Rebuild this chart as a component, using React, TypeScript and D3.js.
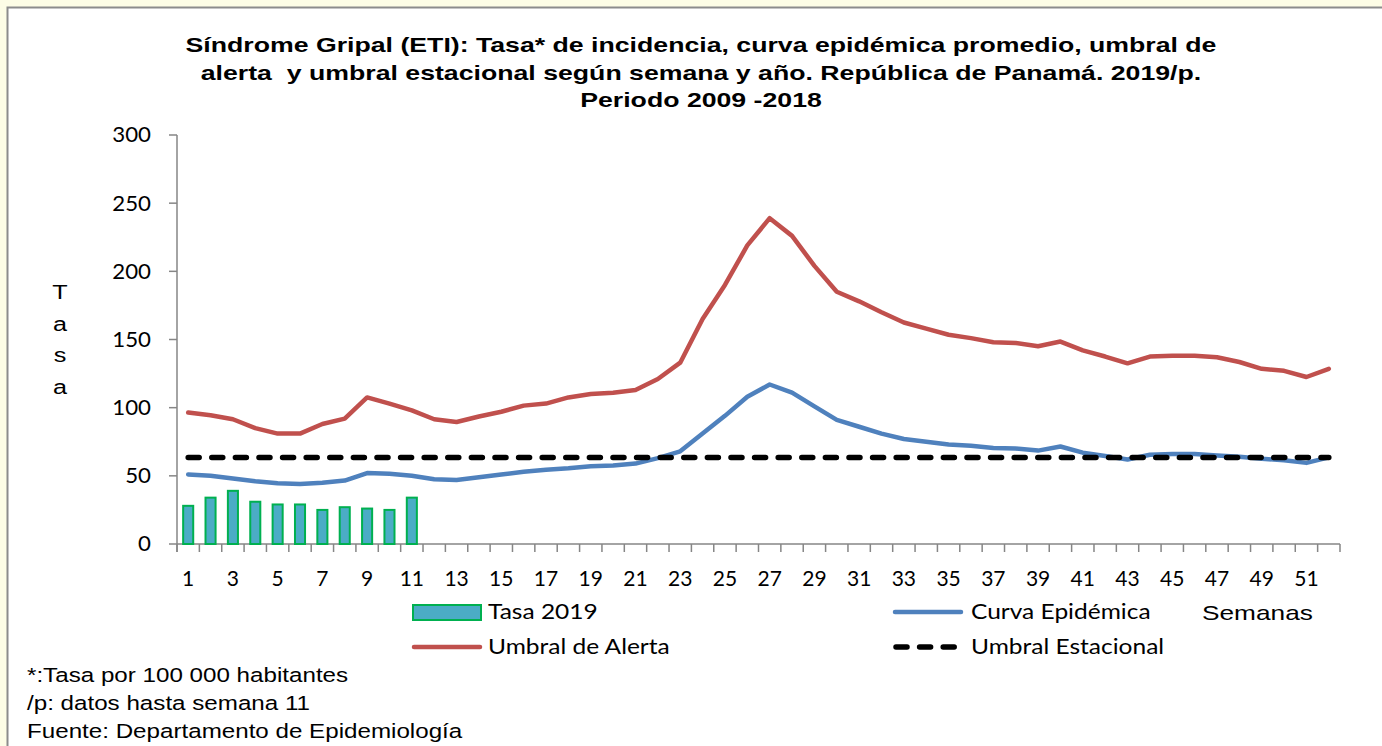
import * as d3 from 'd3'

const W = 1382,
      H = 746

const weeks = [1, 2, 3, 4, 5, 6, 7, 8, 9, 10, 11, 12, 13, 14, 15, 16, 17, 18, 19, 20, 21, 22, 23, 24, 25, 26,
  27, 28, 29, 30, 31, 32, 33, 34, 35, 36, 37, 38, 39, 40, 41, 42, 43, 44, 45, 46, 47, 48, 49, 50, 51, 52]

const tasa2019 = [28, 34, 39, 31, 29, 29, 25, 27, 26, 25, 34]

const curvaEpidemica = [51, 50, 48, 46, 44.5, 44, 45, 46.5, 52, 51.5, 50, 47.5, 47, 49, 51, 53, 54.5, 55.5,
  57, 57.5, 59, 63, 68, 81, 94, 108, 117, 111, 101, 91, 86, 81, 77, 75, 73, 72, 70.5, 70, 68.5, 71.5, 67,
  64.5, 62, 65.5, 66, 66, 65, 64, 62.5, 61.5, 59.5, 63.5]

const umbralAlerta = [96.5, 94.5, 91.5, 85, 81, 81, 88, 92, 107.5, 103, 98, 91.5, 89.5, 93.5, 97, 101.5, 103,
  107.5, 110, 111, 113, 121, 133, 165, 190, 219, 239, 226, 204, 185, 178, 170, 162.5, 158, 153.5, 151, 148,
  147.5, 145, 148.5, 142, 137.5, 132.5, 137.5, 138, 138, 137, 133.5, 128.5, 127, 122.5, 128.5]

const umbralEstacional = [63.5, 63.5, 63.5, 63.5, 63.5, 63.5, 63.5, 63.5, 63.5, 63.5, 63.5, 63.5, 63.5, 63.5,
  63.5, 63.5, 63.5, 63.5, 63.5, 63.5, 63.5, 63.5, 63.5, 63.5, 63.5, 63.5, 63.5, 63.5, 63.5, 63.5, 63.5, 63.5,
  63.5, 63.5, 63.5, 63.5, 63.5, 63.5, 63.5, 63.5, 63.5, 63.5, 63.5, 63.5, 63.5, 63.5, 63.5, 63.5, 63.5, 63.5,
  63.5, 63.5]

const yTicks = [0, 50, 100, 150, 200, 250, 300]

const titleLines = [
  'Síndrome Gripal (ETI): Tasa* de incidencia, curva epidémica promedio, umbral de',
  'alerta  y umbral estacional según semana y año. República de Panamá. 2019/p.',
  'Periodo 2009 -2018'
]

const notes = [
  '*:Tasa por 100 000 habitantes',
  '/p: datos hasta semana 11',
  'Fuente: Departamento de Epidemiología'
]

const RED = '#C0504D',
      BLUE = '#4F81BD',
      BAR = '#4BACC6',
      BAR_EDGE = '#00B050',
      AXIS = '#868686',
      calibri = 'Lato, "Open Sans", sans-serif',
      arial = '"Liberation Sans", Arial, sans-serif'

// the source picture is a bit wider than tall, so text gets a horizontal stretch
const Stretch = ({x, y, sx, children, ...rest}: any) => (
  <g transform={`translate(${x}, ${y}) scale(${sx}, 1)`}>
    <text x={0} y={0} style={{ whiteSpace: 'pre' }} {...rest}>{children}</text>
  </g>
)

export default function App() {
  const x = d3.scaleBand<number>().domain(weeks).range([177, 1340]).padding(0)
  const y = d3.scaleLinear().domain([0, 300]).range([544, 135])
  const cx = (w: number) => (x(w) ?? 0) + x.bandwidth() / 2
  const barW = x.bandwidth() * 0.45

  const line = d3.line<number>()
    .x((_, i) => cx(weeks[i]))
    .y(d => y(d))

  return (
    <svg width={W} height={H} style={{ position: 'absolute', left: 0, top: 0, display: 'block' }}>
      <rect x={0} y={0} width={W} height={H} fill='#FDFDE6' />
      <rect x={7.5} y={7.5} width={W + 20} height={H + 20} fill='#fff' stroke='#8C8C8C' strokeWidth={2} />

      <g className='title' fontFamily={arial} fontWeight='bold' fontSize={21} textAnchor='middle'>
        {titleLines.map((t, i) => (
          <Stretch key={i} x={701} y={52 + i * 27.5} sx={1.27}>{t}</Stretch>
        ))}
      </g>

      <g className='axis left'>
        <line x1={177} x2={177} y1={y(300)} y2={y(0) + 8} stroke={AXIS} strokeWidth={1.5} />
        {yTicks.map(t => (
          <g key={t} transform={`translate(0, ${y(t)})`}>
            <line x1={169} x2={177} stroke={AXIS} strokeWidth={1.5} />
            <Stretch x={151} y={0} sx={1.06} dy='0.35em' textAnchor='end' fontFamily={calibri} fontSize={21} fill='#000'>{t}</Stretch>
          </g>
        ))}
      </g>

      <g className='axis bottom'>
        <line x1={177} x2={1340} y1={y(0)} y2={y(0)} stroke={AXIS} strokeWidth={1.5} />
        {weeks.concat([53]).map((w, i) => {
          const px = 177 + i * x.bandwidth()
          return <line key={w} x1={px} x2={px} y1={y(0)} y2={y(0) + 8} stroke={AXIS} strokeWidth={1.5} />
        })}
        {weeks.filter(w => w % 2 === 1).map(w => (
          <text key={w} x={cx(w)} y={586} textAnchor='middle' fontFamily={calibri} fontSize={21}>{w}</text>
        ))}
      </g>

      <g className='y label' fontFamily={arial} fontSize={21} textAnchor='middle'>
        {['T', 'a', 's', 'a'].map((c, i) => (
          <Stretch key={i} x={60} y={299 + i * 31.5} sx={1.2}>{c}</Stretch>
        ))}
      </g>

      <g className='bars'>
        {tasa2019.map((v, i) => (
          <rect
            key={i}
            x={cx(weeks[i]) - barW / 2}
            y={y(v)}
            width={barW}
            height={y(0) - y(v)}
            fill={BAR}
            stroke={BAR_EDGE}
            strokeWidth={2}
          />
        ))}
      </g>

      <path d={line(umbralAlerta) ?? ''} fill='none' stroke={RED} strokeWidth={4.5} strokeLinejoin='round' strokeLinecap='round' />
      <path d={line(curvaEpidemica) ?? ''} fill='none' stroke={BLUE} strokeWidth={4.5} strokeLinejoin='round' strokeLinecap='round' />
      <path d={line(umbralEstacional) ?? ''} fill='none' stroke='#000' strokeWidth={5.5} strokeDasharray='11 12.6' strokeLinecap='round' />

      <g className='legend' fontFamily={calibri} fontSize={21.5}>
        <rect x={413} y={605} width={68} height={15} fill={BAR} stroke={BAR_EDGE} strokeWidth={2} />
        <Stretch x={488} y={619} sx={1.14}>Tasa 2019</Stretch>
        <line x1={414} x2={480} y1={647} y2={647} stroke={RED} strokeWidth={4.5} strokeLinecap='round' />
        <Stretch x={488} y={654} sx={1.14}>Umbral de Alerta</Stretch>
        <line x1={895} x2={961} y1={612} y2={612} stroke={BLUE} strokeWidth={4.5} strokeLinecap='round' />
        <Stretch x={971} y={619} sx={1.14}>Curva Epidémica</Stretch>
        <line x1={896} x2={958} y1={647} y2={647} stroke='#000' strokeWidth={5.5} strokeDasharray='11 12.6' strokeLinecap='round' />
        <Stretch x={971} y={654} sx={1.14}>Umbral Estacional</Stretch>
      </g>

      <g fontFamily={arial} fontSize={21}>
        <Stretch x={1202} y={620} sx={1.25}>Semanas</Stretch>
      </g>

      <g className='notes' fontFamily={arial} fontSize={19.5}>
        {notes.map((t, i) => (
          <Stretch key={i} x={27} y={682 + i * 28} sx={1.24}>{t}</Stretch>
        ))}
      </g>
    </svg>
  )
}
